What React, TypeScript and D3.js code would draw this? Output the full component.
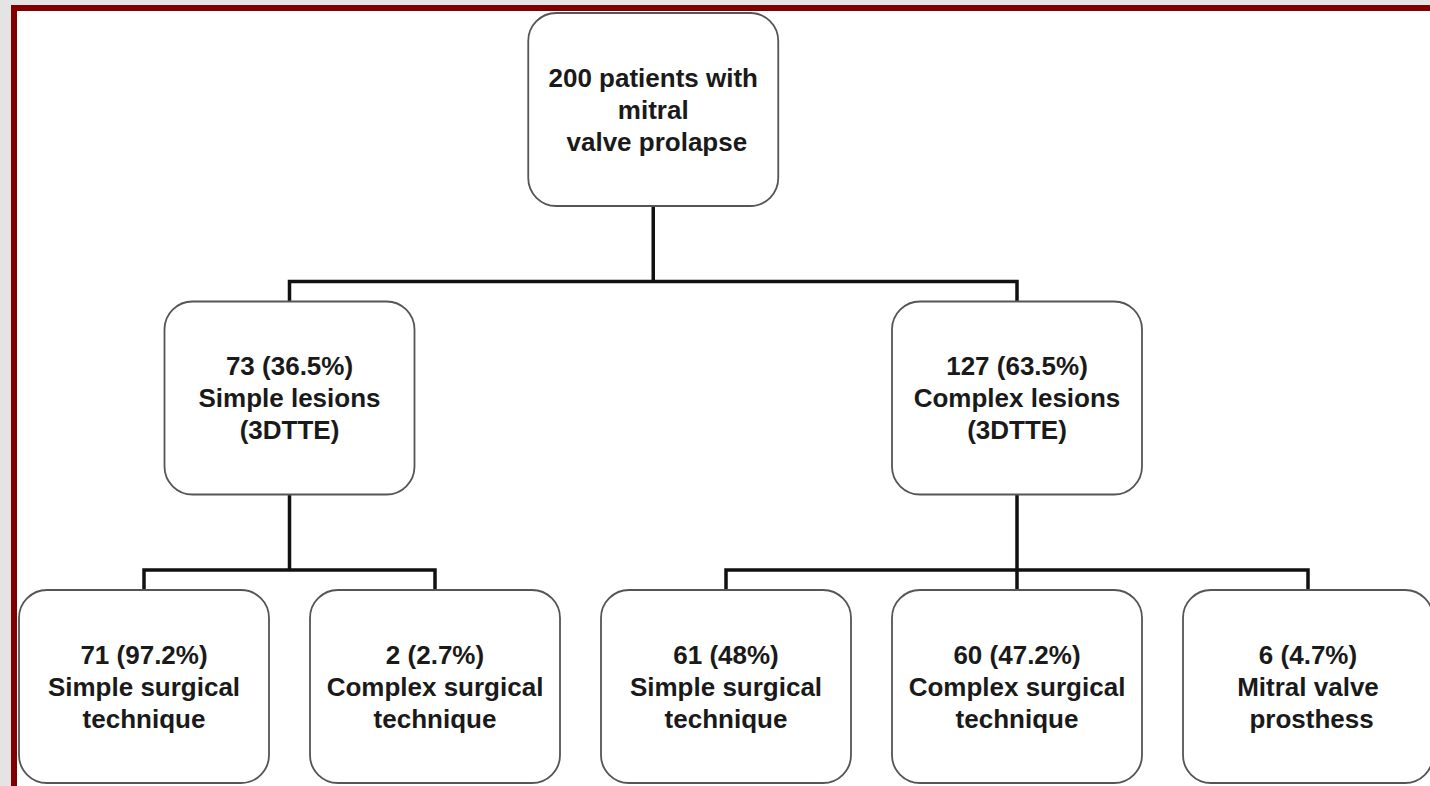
import React, { useRef, useEffect } from "react";
import * as d3 from "d3";

interface FlowNode {
  id: string;
  lines: string[];
  children?: FlowNode[];
}

// Text of each box, by level
const rootLines = ["200 patients with", "mitral", " valve prolapse"];
const lesionLines = [
  ["73 (36.5%)", "Simple lesions", "(3DTTE)"],
  ["127 (63.5%)", "Complex lesions", "(3DTTE)"],
];
const simpleOutcomeLines = [
  ["71 (97.2%)", "Simple surgical", "technique"],
  ["2 (2.7%)", "Complex surgical", "technique"],
];
const complexOutcomeLines = [
  ["61 (48%)", "Simple surgical", "technique"],
  ["60 (47.2%)", "Complex surgical", "technique"],
  ["6 (4.7%)", "Mitral valve", " prosthess"],
];

const treeData: FlowNode = {
  id: "root",
  lines: rootLines,
  children: [
    {
      id: "simple",
      lines: lesionLines[0],
      children: simpleOutcomeLines.map((l, i) => ({ id: `s${i}`, lines: l })),
    },
    {
      id: "complex",
      lines: lesionLines[1],
      children: complexOutcomeLines.map((l, i) => ({ id: `c${i}`, lines: l })),
    },
  ],
};

const App: React.FC = () => {
  const svgRef = useRef<SVGSVGElement | null>(null);
  const width = 1430;
  const height = 786;

  useEffect(() => {
    const svg = d3.select(svgRef.current);
    svg.selectAll("*").remove();

    // Slide frame: gray backdrop, dark red border, white panel
    svg.append("rect").attr("width", width).attr("height", height).attr("fill", "#e4e4e4");
    svg.append("rect").attr("x", 11).attr("y", 5).attr("width", width - 11).attr("height", height - 5).attr("fill", "#800000");
    svg.append("rect").attr("x", 17).attr("y", 11).attr("width", width - 17).attr("height", height - 11).attr("fill", "#ffffff");

    const root = d3.hierarchy<FlowNode>(treeData);
    const leaves = root.leaves();

    // Column scale for leaf boxes, level scale for rows
    const xScale = d3.scaleLinear().domain([0, leaves.length - 1]).range([144, 1308]);
    const yScale = d3.scaleLinear().domain([0, root.height]).range([13, 590]);

    const boxW = 250;
    const boxH = 193;
    const gap = 20;

    const xPos = new Map<d3.HierarchyNode<FlowNode>, number>();
    leaves.forEach((l, i) => xPos.set(l, xScale(i)));
    root.eachAfter((n) => {
      if (n.children) xPos.set(n, d3.mean(n.children, (c) => xPos.get(c)!)!);
    });

    const g = svg.append("g");

    // Connectors
    root.each((n) => {
      if (!n.children) return;
      const px = xPos.get(n)!;
      const pBottom = yScale(n.depth) + boxH;
      const childTop = yScale(n.depth + 1);
      const barY = childTop - gap;
      const xs = n.children.map((c) => xPos.get(c)!);
      const path = d3.path();
      path.moveTo(px, pBottom);
      path.lineTo(px, barY);
      path.moveTo(d3.min(xs)!, barY);
      path.lineTo(d3.max(xs)!, barY);
      xs.forEach((cx) => {
        path.moveTo(cx, barY);
        path.lineTo(cx, childTop);
      });
      g.append("path")
        .attr("d", path.toString())
        .attr("fill", "none")
        .attr("stroke", "#111")
        .attr("stroke-width", 3.5)
        .attr("stroke-linecap", "square");
    });

    // Boxes
    const nodes = g
      .selectAll("g.node")
      .data(root.descendants())
      .join("g")
      .attr("class", "node")
      .attr("transform", (d) => `translate(${xPos.get(d)! - boxW / 2},${yScale(d.depth)})`);

    nodes
      .append("rect")
      .attr("width", boxW)
      .attr("height", boxH)
      .attr("rx", 28)
      .attr("ry", 28)
      .attr("fill", "#fff")
      .attr("stroke", "#555")
      .attr("stroke-width", 1.8);

    const lineH = 32;
    nodes
      .append("text")
      .attr("text-anchor", "middle")
      .attr("font-family", "'Liberation Sans', Arial, sans-serif")
      .attr("font-weight", "bold")
      .attr("font-size", 26)
      .attr("fill", "#1a1a1a")
      .style("white-space", "pre")
      .each(function (d) {
        const t = d3.select(this);
        const n = d.data.lines.length;
        d.data.lines.forEach((line, i) => {
          t.append("tspan")
            .attr("x", boxW / 2)
            .attr("y", boxH / 2 + (i - (n - 1) / 2) * lineH)
            .attr("dominant-baseline", "central")
            .text(line);
        });
      });
  }, []);

  return (
    <svg
      ref={svgRef}
      width={width}
      height={height}
      style={{ position: "absolute", left: 0, top: 0, display: "block" }}
    ></svg>
  );
};

export default App;
